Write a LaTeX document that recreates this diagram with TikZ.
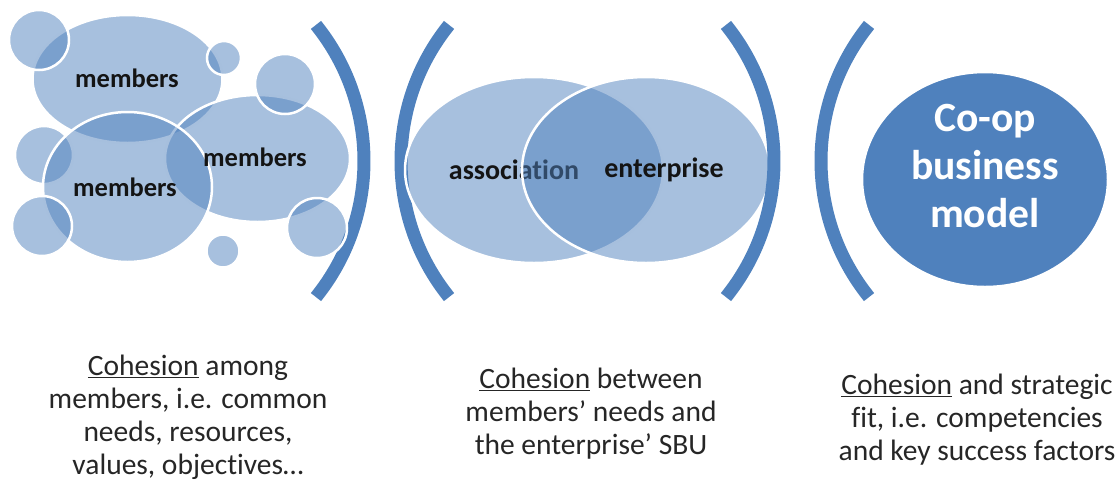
\documentclass[tikz,border=0pt]{standalone}
\usepackage{fontspec}
\setmainfont{Carlito}[Ligatures=NoCommon]
\usetikzlibrary{shapes.geometric}
\definecolor{officeblue}{HTML}{4F81BD}
\definecolor{textgray}{HTML}{262626}
\tikzset{
  bub/.style={ellipse, inner sep=0pt, outer sep=0pt, fill=officeblue, fill opacity=0.5, draw=white, line width=2.5pt},
  solidbub/.style={ellipse, inner sep=0pt, outer sep=0pt, fill=officeblue, draw=white, line width=2.5pt},
  paren/.style={draw=officeblue, line width=13pt, line cap=butt},
  lbl/.style={font=\bfseries\fontsize{26.5}{30}\selectfont, text=black!92, inner sep=0pt},
  lblm/.style={font=\bfseries\fontsize{28}{32}\selectfont, text=black!92, inner sep=0pt},
  caption/.style={font=\fontsize{29.5}{33}\selectfont, text=textgray, align=center, inner sep=0pt},
  coop/.style={font=\bfseries\fontsize{41.6}{48}\selectfont, text=white, align=center, inner sep=0pt}
}
\begin{document}
\begin{tikzpicture}[x=1pt, y=-1pt]
\useasboundingbox (0,0) rectangle (1119,480);
% left cluster
\node[bub, minimum width=190pt, minimum height=128pt] (top) at (127.5,79) {};
\node[bub, minimum width=185pt, minimum height=127pt] (right) at (257.5,158.5) {};
\node[bub, minimum width=58pt, minimum height=58pt] (cml) at (44,155) {};
\node[bub, minimum width=169pt, minimum height=150pt] (bot) at (127.5,187) {};
\node[bub, minimum width=60pt, minimum height=60pt] (ctl) at (39,40) {};
\node[bub, minimum width=34pt, minimum height=34pt] (cst) at (224,58) {};
\node[bub, minimum width=60pt, minimum height=60pt] (cur) at (285,84) {};
\node[bub, minimum width=60pt, minimum height=60pt] (cbl) at (42,226) {};
\node[bub, minimum width=33pt, minimum height=33pt] (csb) at (223,251) {};
\draw[paren] (147.3,161) ++(-38.9:216.7) arc[start angle=-38.9, end angle=38.9, radius=216.7];
\node[bub, minimum width=60pt, minimum height=60pt] (clr) at (317,228) {};
\node[lbl] (t1) at (127,78) {members};
\node[lbl] (t2) at (255,157) {members};
\node[lbl] (t3) at (125,187) {members};
% middle
\draw[paren] (617.7,161) ++(141.1:216.7) arc[start angle=141.1, end angle=218.9, radius=216.7];
\node[bub, minimum width=258pt, minimum height=186pt] (assoc) at (534,170) {};
\node[lblm] (ta) at (514,170) {association};
\node[bub, minimum width=248pt, minimum height=186pt] (ent) at (646,170) {};
\node[lblm] (te) at (664,170) {enterprise};
\draw[paren] (557.3,161) ++(-38.9:216.7) arc[start angle=-38.9, end angle=38.9, radius=216.7];
% right
\draw[paren] (1037.7,161) ++(141.1:216.7) arc[start angle=141.1, end angle=218.9, radius=216.7];
\node[solidbub, minimum width=246pt, minimum height=215pt] (model) at (985,179.5) {};
\node[coop] (tm) at (985,166) {Co-op\\business\\model};
% captions
\node[caption] (c1) at (188,417) {\underline{Cohesion} among\\members, i.e. common\\needs, resources,\\values, objectives…};
\node[caption] (c2) at (591,414) {\underline{Cohesion} between\\members’ needs and\\the enterprise’ SBU};
\node[caption] (c3) at (977,420) {\underline{Cohesion} and strategic\\fit, i.e. competencies\\and key success factors};
\end{tikzpicture}
\end{document}
